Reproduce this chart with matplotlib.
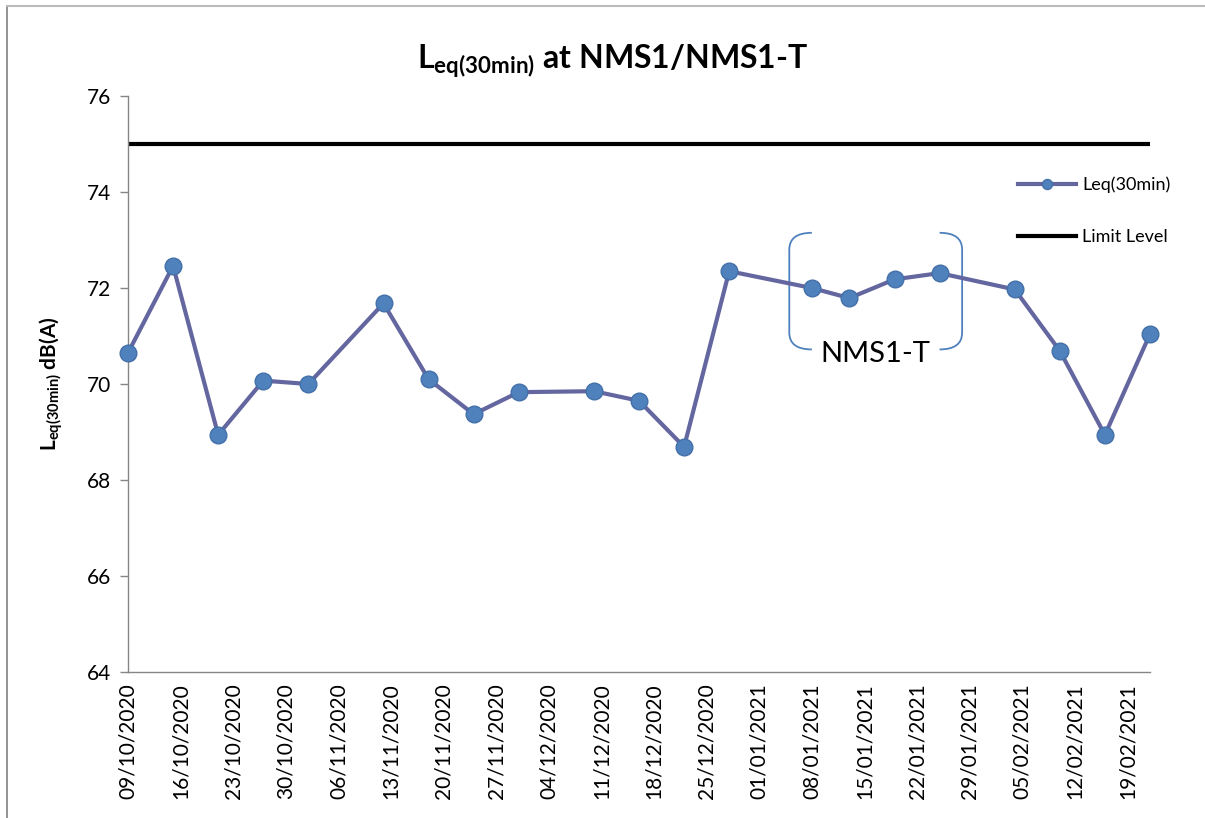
import matplotlib
matplotlib.use("Agg")
import matplotlib.pyplot as plt
import matplotlib.dates as mdates
from matplotlib.path import Path
from matplotlib.patches import PathPatch
from matplotlib.lines import Line2D
import pandas as pd

plt.rcParams['font.family'] = ['Lato', 'DejaVu Sans']
plt.rcParams['mathtext.fontset'] = 'custom'
plt.rcParams['mathtext.rm'] = 'Lato'
plt.rcParams['mathtext.bf'] = 'Lato:bold'
plt.rcParams['mathtext.it'] = 'Lato:italic'

# measured Leq(30min) values
dates = ['09/10/2020', '15/10/2020', '21/10/2020', '27/10/2020', '02/11/2020',
         '12/11/2020', '18/11/2020', '24/11/2020', '30/11/2020', '10/12/2020',
         '16/12/2020', '22/12/2020', '28/12/2020', '08/01/2021', '13/01/2021',
         '19/01/2021', '25/01/2021', '04/02/2021', '10/02/2021', '16/02/2021',
         '22/02/2021']
leq = [70.65, 72.46, 68.94, 70.07, 70.0, 71.68, 70.1, 69.37, 69.83, 69.85,
       69.65, 68.69, 72.35, 72.0, 71.79, 72.18, 72.31, 71.97, 70.69, 68.94,
       71.04]

# limit level
limit_dates = ['09/10/2020', '22/02/2021']
limit_values = [75, 75]

# NMS1-T bracket span
nms1t_span = ['05/01/2021', '28/01/2021']
nms1t_label = 'NMS1-T'

x = pd.to_datetime(dates, format='%d/%m/%Y')
xl = pd.to_datetime(limit_dates, format='%d/%m/%Y')

fig = plt.figure(figsize=(12.05, 8.18), dpi=100)
ax = fig.add_axes([128 / 1205, 1 - 672 / 818, 1022 / 1205, 576 / 818])

ax.plot(x, leq, color='#6466A0', lw=3.0, marker='o', ms=12,
        mfc='#4F81BD', mec='#4470A8', mew=1.0, label='Leq(30min)', zorder=3,
        clip_on=False)
ax.plot(xl, limit_values, color='black', lw=3.0, label='Limit Level', zorder=2)

ax.set_xlim(xl[0], xl[1])
ax.set_ylim(64, 76)
ax.set_yticks(range(64, 77, 2))
ticks = pd.date_range(xl[0], xl[1], freq='7D')
ax.set_xticks(ticks)
ax.xaxis.set_major_formatter(mdates.DateFormatter('%d/%m/%Y'))
ax.tick_params(axis='x', rotation=90, length=0, labelsize=15, pad=8, colors='black')
ax.tick_params(axis='y', length=6, width=1, color='#868686', labelsize=15, pad=6)

for s in ['top', 'right']:
    ax.spines[s].set_visible(False)
for s in ['left', 'bottom']:
    ax.spines[s].set_color('#868686')
    ax.spines[s].set_linewidth(1.0)

ax.set_title(r'$\mathbf{L_{eq(30min)}}$ at NMS1/NMS1-T', fontsize=23,
             fontweight='bold', pad=20, x=0.474)
ax.set_ylabel(r'$\mathbf{L_{eq(30min)}}$ dB(A)', fontsize=15, fontweight='bold',
              labelpad=16)

# bracket around NMS1-T points
b0, b1 = [mdates.date2num(d) for d in pd.to_datetime(nms1t_span, format='%d/%m/%Y')]
y_top, y_bot = 73.15, 70.72
hook, ry = 3.0, 0.35
for xv, sgn in [(b0, 1), (b1, -1)]:
    verts = [(xv + sgn * hook, y_top), (xv, y_top), (xv, y_top - ry),
             (xv, y_bot + ry), (xv, y_bot), (xv + sgn * hook, y_bot)]
    codes = [Path.MOVETO, Path.CURVE3, Path.CURVE3, Path.LINETO,
             Path.CURVE3, Path.CURVE3]
    ax.add_patch(PathPatch(Path(verts, codes), fill=False, ec='#4F81BD', lw=1.3,
                           zorder=1))
ax.text((b0 + b1) / 2, y_bot - 0.1, nms1t_label, fontsize=21, ha='center',
        va='center', zorder=4)

leg = ax.legend(loc='upper left', bbox_to_anchor=(0.855, 0.888), frameon=False,
                fontsize=13, handlelength=3.2, handletextpad=0.35,
                labelspacing=2.0, markerscale=0.6)

# chart area border
fig.add_artist(Line2D([7 / 1205, 7 / 1205], [0, 1 - 6 / 818], color='#808080', lw=1.2))
fig.add_artist(Line2D([7 / 1205, 1], [1 - 6 / 818, 1 - 6 / 818], color='#BBBBBB', lw=1.5))

fig.savefig('out.png', dpi=100)
